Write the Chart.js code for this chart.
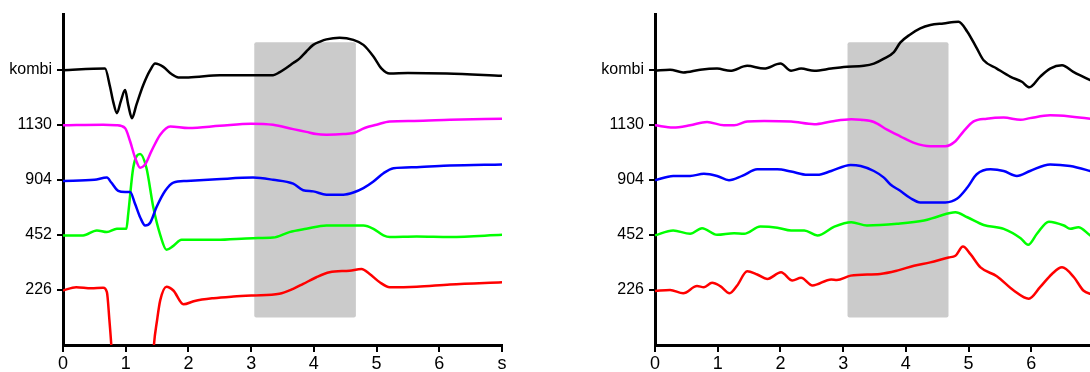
<!DOCTYPE html>
<html>
<head>
<meta charset="utf-8">
<script src="https://cdn.jsdelivr.net/npm/chart.js@4.4.1/dist/chart.umd.min.js"></script>
<style>
  html, body { margin: 0; padding: 0; background: #fff; overflow: hidden; }
  #wrap { position: relative; width: 1090px; height: 372px; overflow: hidden; }
  canvas { position: absolute; top: 0; }
  #leftChart { left: 0; }
  #rightChart { left: 592px; }
</style>
</head>
<body>
<div id="wrap">
  <canvas id="leftChart" width="530" height="372"></canvas>
  <canvas id="rightChart" width="530" height="372"></canvas>
</div>
<script>
// tick labels
const xLabels = ['0', '1', '2', '3', '4', '5', '6', 's'];
const yLevels = [1, 2, 3, 4, 5];
const yLabels = ['226', '452', '904', '1130', 'kombi'];

// grey window (time s, trace level)
const leftShade = [3.05, 4.67];
const rightShade = [3.07, 4.68];
const shadeLevels = [0.5, 5.5];

// left panel traces [time, level]
const leftKombi = [[0,4.99],[0.67,5.02],[0.75,4.69],[0.80,4.42],[0.86,4.21],[0.92,4.42],[0.99,4.63],[1.04,4.36],[1.10,4.12],[1.17,4.36],[1.28,4.72],[1.39,4.99],[1.47,5.11],[1.60,5.05],[1.73,4.92],[1.84,4.86],[2.0,4.86],[2.5,4.9],[3.0,4.9],[3.35,4.9],[3.45,4.95],[3.56,5.03],[3.67,5.12],[3.77,5.2],[3.88,5.33],[3.99,5.45],[4.1,5.51],[4.2,5.55],[4.41,5.58],[4.63,5.54],[4.79,5.45],[4.95,5.24],[5.08,5.02],[5.21,4.93],[5.5,4.94],[6.12,4.93],[7.0,4.89]];
const left1130 = [[0,3.99],[0.64,4.0],[0.85,3.99],[0.99,3.94],[1.07,3.70],[1.15,3.40],[1.23,3.22],[1.31,3.28],[1.41,3.52],[1.55,3.82],[1.71,3.97],[2.0,3.94],[2.5,3.98],[3.0,4.02],[3.35,4.0],[3.67,3.92],[3.88,3.87],[4.04,3.83],[4.2,3.82],[4.47,3.83],[4.63,3.85],[4.81,3.94],[5.0,4.0],[5.21,4.06],[5.6,4.07],[6.17,4.09],[7.0,4.11]];
const left904 = [[0,2.98],[0.5,3.0],[0.70,3.04],[0.77,2.95],[0.88,2.80],[0.99,2.78],[1.07,2.78],[1.15,2.56],[1.23,2.32],[1.31,2.17],[1.39,2.22],[1.49,2.50],[1.63,2.80],[1.76,2.95],[1.97,2.98],[2.45,3.01],[3.03,3.04],[3.35,3.0],[3.67,2.93],[3.83,2.81],[3.99,2.79],[4.2,2.73],[4.47,2.73],[4.63,2.77],[4.79,2.85],[4.95,2.97],[5.11,3.12],[5.27,3.21],[5.64,3.23],[6.17,3.26],[7.0,3.28]];
const left452 = [[0,1.99],[0.32,1.99],[0.54,2.08],[0.70,2.05],[0.86,2.11],[1.01,2.11],[1.04,2.38],[1.12,3.22],[1.23,3.47],[1.33,3.22],[1.44,2.50],[1.55,2.0],[1.65,1.73],[1.76,1.80],[1.89,1.91],[2.45,1.91],[3.03,1.94],[3.35,1.95],[3.61,2.05],[3.88,2.11],[4.2,2.17],[4.79,2.17],[4.95,2.11],[5.11,1.99],[5.21,1.96],[5.64,1.97],[6.17,1.96],[7.0,2.0]];
const left226 = [[0,0.99],[0.21,1.05],[0.45,1.03],[0.64,1.04],[0.70,0.96],[0.74,0.45],[0.77,0.0],[0.82,-1.0],[1.1,-2.0],[1.4,-1.0],[1.45,0.0],[1.5,0.45],[1.55,0.81],[1.65,1.06],[1.76,0.99],[1.92,0.74],[2.1,0.8],[2.4,0.85],[2.72,0.88],[3.03,0.90],[3.45,0.93],[3.67,1.02],[3.83,1.11],[4.04,1.23],[4.25,1.32],[4.57,1.35],[4.76,1.38],[4.89,1.29],[5.05,1.14],[5.21,1.05],[5.64,1.06],[6.17,1.10],[7.0,1.14]];

// right panel traces [time, level]
const rightKombi = [[0,4.98],[0.24,5.0],[0.45,4.95],[0.72,5.0],[0.99,5.02],[1.2,4.98],[1.47,5.07],[1.74,5.02],[2.0,5.11],[2.17,4.98],[2.33,5.02],[2.54,4.98],[2.81,5.02],[3.01,5.05],[3.33,5.07],[3.49,5.11],[3.65,5.2],[3.81,5.32],[3.91,5.49],[4.07,5.64],[4.23,5.75],[4.39,5.81],[4.6,5.84],[4.84,5.87],[4.98,5.69],[5.13,5.39],[5.24,5.17],[5.45,5.02],[5.67,4.87],[5.85,4.78],[5.97,4.68],[6.14,4.87],[6.3,5.02],[6.49,5.08],[6.67,4.96],[6.94,4.81],[7.0,4.78]];
const right1130 = [[0,3.99],[0.29,3.95],[0.56,3.99],[0.83,4.05],[1.1,3.99],[1.26,3.99],[1.47,4.06],[1.74,4.07],[2.17,4.06],[2.54,4.01],[2.81,4.06],[3.13,4.1],[3.28,4.09],[3.49,4.05],[3.7,3.91],[3.91,3.79],[4.13,3.67],[4.39,3.61],[4.63,3.61],[4.79,3.7],[4.92,3.88],[5.08,4.06],[5.29,4.11],[5.56,4.13],[5.83,4.09],[5.98,4.12],[6.3,4.17],[6.62,4.15],[6.94,4.11],[7.0,4.1]];
const right904 = [[0,2.99],[0.29,3.07],[0.56,3.07],[0.78,3.11],[0.99,3.07],[1.18,2.99],[1.39,3.07],[1.63,3.19],[1.95,3.19],[2.17,3.15],[2.43,3.09],[2.59,3.09],[2.81,3.16],[3.12,3.27],[3.28,3.25],[3.49,3.16],[3.65,3.04],[3.75,2.92],[3.91,2.8],[4.07,2.67],[4.23,2.59],[4.63,2.59],[4.82,2.66],[4.98,2.86],[5.13,3.1],[5.35,3.19],[5.56,3.16],[5.77,3.07],[5.98,3.16],[6.3,3.28],[6.62,3.25],[6.94,3.16],[7.0,3.14]];
const right452 = [[0,1.99],[0.29,2.08],[0.56,2.02],[0.75,2.12],[0.99,2.0],[1.26,2.03],[1.42,2.02],[1.68,2.15],[1.95,2.13],[2.17,2.08],[2.38,2.08],[2.59,1.99],[2.86,2.15],[3.13,2.23],[3.38,2.17],[3.86,2.2],[4.29,2.26],[4.5,2.33],[4.79,2.41],[4.98,2.32],[5.24,2.18],[5.56,2.11],[5.83,1.94],[5.95,1.82],[6.09,2.02],[6.28,2.24],[6.52,2.17],[6.62,2.11],[6.75,2.14],[6.94,1.99],[7.0,1.95]];
const right226 = [[0,0.98],[0.24,1.0],[0.45,0.94],[0.67,1.07],[0.78,1.05],[0.91,1.13],[1.04,1.07],[1.19,0.94],[1.31,1.08],[1.47,1.34],[1.63,1.28],[1.79,1.2],[2.01,1.32],[2.19,1.17],[2.33,1.22],[2.51,1.08],[2.81,1.19],[2.9,1.18],[3.12,1.26],[3.59,1.29],[3.86,1.35],[4.13,1.44],[4.39,1.5],[4.68,1.59],[4.79,1.62],[4.91,1.79],[5.03,1.65],[5.19,1.41],[5.45,1.25],[5.72,0.99],[5.96,0.84],[6.14,1.05],[6.33,1.29],[6.49,1.41],[6.68,1.23],[6.83,0.99],[6.94,0.93],[7.0,0.92]];

const traceColors = ['#000000', '#ff00ff', '#0000ff', '#00ff00', '#ff0000'];
const fontFamily = "'Liberation Sans', Arial, sans-serif";

// grey box behind the traces, placed through the chart scales
const shadePlugin = {
    id: 'shade',
    beforeDatasetsDraw(chart, args, opts) {
        const ctx = chart.ctx;
        const x = chart.scales.x, y = chart.scales.y;
        const x0 = x.getPixelForValue(opts.x[0]);
        const x1 = x.getPixelForValue(opts.x[1]);
        const y0 = y.getPixelForValue(opts.y[1]);
        const y1 = y.getPixelForValue(opts.y[0]);
        ctx.save();
        ctx.fillStyle = opts.color;
        ctx.beginPath();
        ctx.roundRect(x0, y0, x1 - x0, y1 - y0, 2);
        ctx.fill();
        ctx.restore();
    }
};

function createTraceChart(canvasId, traces, shade) {
    const ctx = document.getElementById(canvasId);

    new Chart(ctx, {
        type: 'line',
        data: {
            datasets: traces.map(function (trace, i) {
                return {
                    data: trace.map(p => ({ x: p[0], y: p[1] })),
                    borderColor: traceColors[i],
                    borderWidth: 2.5,
                    pointRadius: 0,
                    fill: false,
                    cubicInterpolationMode: 'monotone'
                };
            })
        },
        options: {
            responsive: false,
            animation: false,
            layout: { padding: { top: 13, right: 28, left: 0, bottom: 0 } },
            plugins: {
                legend: { display: false },
                tooltip: { enabled: false },
                shade: { x: shade, y: shadeLevels, color: '#cbcbcb' }
            },
            scales: {
                x: {
                    type: 'linear',
                    min: 0,
                    max: 7,
                    afterFit: s => { s.height = 27; },
                    ticks: {
                        stepSize: 1,
                        autoSkip: false,
                        maxRotation: 0,
                        padding: 1,
                        color: '#000',
                        font: { family: fontFamily, size: 18 },
                        callback: v => xLabels[v]
                    },
                    grid: { drawOnChartArea: false, tickLength: 7, color: '#000', lineWidth: 2 },
                    border: { color: '#000', width: 3 }
                },
                y: {
                    type: 'linear',
                    min: 0,
                    max: 6,
                    afterFit: s => { s.width = 63; },
                    afterBuildTicks: s => { s.ticks = yLevels.map(v => ({ value: v })); },
                    ticks: {
                        padding: 5,
                        color: '#000',
                        font: { family: fontFamily, size: 16 },
                        callback: v => yLabels[yLevels.indexOf(v)]
                    },
                    grid: { drawOnChartArea: false, tickLength: 6, color: '#000', lineWidth: 2 },
                    border: { color: '#000', width: 3 }
                }
            }
        },
        plugins: [shadePlugin]
    });
}

createTraceChart('leftChart', [leftKombi, left1130, left904, left452, left226], leftShade);
createTraceChart('rightChart', [rightKombi, right1130, right904, right452, right226], rightShade);
</script>
</body>
</html>
